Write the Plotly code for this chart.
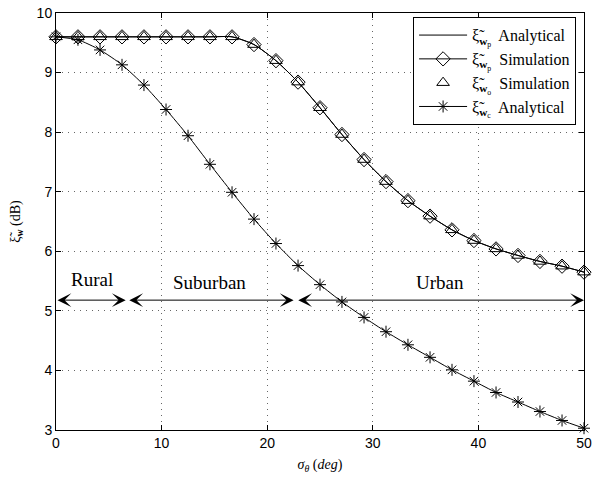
import plotly.graph_objects as go

# ---------------- data ----------------
sigma = [0, 2.08, 4.17, 6.25, 8.33, 10.42, 12.5, 14.58, 16.67, 18.75, 20.83, 22.92,
         25.0, 27.08, 29.17, 31.25, 33.33, 35.42, 37.5, 39.58, 41.67, 43.75, 45.83, 47.92, 50]

wp_analytical = [9.60, 9.60, 9.60, 9.60, 9.60, 9.60, 9.60, 9.60, 9.60, 9.47, 9.20, 8.84,
                 8.41, 7.96, 7.54, 7.17, 6.85, 6.59, 6.36, 6.18, 6.04, 5.93, 5.83, 5.75, 5.65]
wp_simulation = [9.60, 9.60, 9.60, 9.60, 9.60, 9.60, 9.60, 9.60, 9.60, 9.47, 9.20, 8.84,
                 8.41, 7.96, 7.54, 7.17, 6.85, 6.59, 6.36, 6.18, 6.04, 5.93, 5.83, 5.75, 5.65]
wo_simulation = [9.60, 9.60, 9.60, 9.60, 9.60, 9.60, 9.60, 9.60, 9.60, 9.47, 9.20, 8.84,
                 8.41, 7.96, 7.54, 7.17, 6.85, 6.59, 6.36, 6.18, 6.04, 5.93, 5.83, 5.75, 5.65]
wc_analytical = [9.60, 9.55, 9.38, 9.13, 8.79, 8.38, 7.94, 7.46, 6.99, 6.54, 6.13, 5.76,
                 5.44, 5.15, 4.89, 4.65, 4.43, 4.22, 4.01, 3.82, 3.63, 3.47, 3.31, 3.16, 3.03]

XI = "ξ\u0303"
legend_names = [
    XI + "<sub><b>w</b><sub>p</sub></sub>  Analytical",
    XI + "<sub><b>w</b><sub>p</sub></sub>  Simulation",
    XI + "<sub><b>w</b><sub>o</sub></sub>  Simulation",
    XI + "<sub><b>w</b><sub>c</sub></sub>  Analytical",
]

regions = ["Rural", "Suburban", "Urban"]
region_start = [0, 6.8, 22.8]
region_end = [6.6, 22.5, 50]
region_arrow_y = 5.18
region_label_x = [3.4, 14.5, 36.4]
region_label_y = [5.52, 5.47, 5.47]

x_ticks = [0, 10, 20, 30, 40, 50]
y_ticks = [3, 4, 5, 6, 7, 8, 9, 10]

# ---------------- figure ----------------
fig = go.Figure()
fig.add_trace(go.Scatter(x=sigma, y=wp_analytical, mode="lines", name=legend_names[0],
                         line=dict(color="black", width=1, shape="spline", smoothing=0.6),
                         cliponaxis=False))
fig.add_trace(go.Scatter(x=sigma, y=wp_simulation, mode="lines+markers", name=legend_names[1],
                         line=dict(color="black", width=1, shape="spline", smoothing=0.6),
                         marker=dict(symbol="diamond-open", size=11, color="black",
                                     line=dict(width=1, color="black")),
                         cliponaxis=False))
fig.add_trace(go.Scatter(x=sigma, y=wo_simulation, mode="markers", name=legend_names[2],
                         marker=dict(symbol="triangle-up-open", size=11, color="black",
                                     line=dict(width=1, color="black")),
                         cliponaxis=False))
fig.add_trace(go.Scatter(x=sigma, y=wc_analytical, mode="lines+markers", name=legend_names[3],
                         line=dict(color="black", width=1, shape="spline", smoothing=0.6),
                         marker=dict(symbol="asterisk-open", size=10, color="black",
                                     line=dict(width=1, color="black")),
                         cliponaxis=False))

for name, xs, xe, lx, ly in zip(regions, region_start, region_end, region_label_x, region_label_y):
    fig.add_annotation(x=xe, y=region_arrow_y, ax=xs, ay=region_arrow_y,
                       xref="x", yref="y", axref="x", ayref="y",
                       text="", showarrow=True, arrowside="end+start",
                       arrowhead=3, startarrowhead=3, arrowsize=2.3, startarrowsize=2.3,
                       arrowwidth=1, arrowcolor="black", standoff=0, startstandoff=0)
    fig.add_annotation(x=lx, y=ly, xref="x", yref="y", text=name, showarrow=False,
                       font=dict(family="Liberation Serif", size=19, color="black"))

axis_common = dict(showline=True, linecolor="black", linewidth=1, mirror="ticks",
                   ticks="inside", ticklen=5, tickcolor="black", tickwidth=1,
                   showgrid=True, gridcolor="#666666", griddash="1px,5px", gridwidth=1,
                   zeroline=False, ticklabeloverflow="allow", automargin=False,
                   tickfont=dict(family="Liberation Sans", size=14, color="black"))

fig.update_xaxes(range=[0, 50], tickvals=x_ticks,
                 title=dict(text="<i>σ<sub>θ</sub></i> (<i>deg</i>)",
                            font=dict(family="Liberation Serif", size=14, color="black"),
                            standoff=9),
                 **axis_common)
fig.update_yaxes(range=[3, 10], tickvals=y_ticks,
                 title=dict(text=XI + "<sub><b>w</b></sub> (dB)",
                            font=dict(family="Liberation Serif", size=14, color="black"),
                            standoff=12),
                 **axis_common)

fig.update_layout(
    width=595, height=477,
    margin=dict(l=56, r=11, t=13, b=47),
    paper_bgcolor="white", plot_bgcolor="white",
    showlegend=True,
    legend=dict(x=0.985, y=0.99, xanchor="right", yanchor="top",
                bgcolor="white", bordercolor="black", borderwidth=1,
                font=dict(family="Liberation Serif", size=16, color="black"),
                tracegroupgap=0, itemwidth=48),
)

# remove the page's default body margin so the figure fills the window exactly
fig.write_html("out.html", config={"displayModeBar": False},
               post_script="document.body.style.margin='0';document.body.style.overflow='hidden';")
